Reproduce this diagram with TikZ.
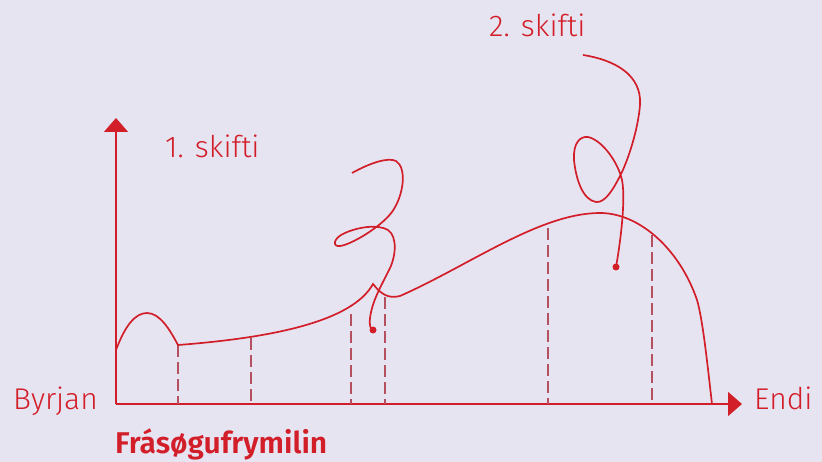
\documentclass[tikz,border=0pt]{standalone}
\usepackage{fontspec}
\setmainfont{Fira Sans Light}[BoldFont=Fira Sans SemiBold]
\usetikzlibrary{arrows.meta}
\definecolor{bgc}{RGB}{231,228,242}
\definecolor{redc}{RGB}{210,30,40}
\definecolor{dashc}{RGB}{180,80,96}
\begin{document}
\begin{tikzpicture}[x=1pt,y=-1pt,
  curve/.style={draw=redc,line width=1.7pt},
  axisline/.style={draw=redc,line width=1.4pt},
  guide/.style={draw=dashc,line width=1.2pt,dash pattern=on 12pt off 5pt},
  lbl/.style={text=redc,font=\fontsize{30}{32}\selectfont,inner sep=0pt,anchor=base west},
  dotc/.style={fill=redc,circle,inner sep=0pt,minimum size=7pt}]
\fill[bgc] (0,0) rectangle (822,462);
\useasboundingbox (0,0) rectangle (822,462);
% axes
\coordinate (O) at (116,404);
\coordinate (X) at (742,404);
\coordinate (Y) at (116,118);
\draw[axisline,-{Triangle[width=24pt,length=14pt]}] (O) -- (X);
\draw[axisline,-{Triangle[width=24pt,length=14pt]}] (O) -- (Y);
% labels
\node[lbl] (byrjan) at (13,409) {Byrjan};
\node[lbl] (endi) at (754,409) {Endi};
\node[lbl] (s1) at (165,158) {1. skifti};
\node[lbl] (s2) at (489,37) {2. skifti};
\node[lbl,font=\fontsize{30}{32}\selectfont\bfseries] (fras) at (115,453) {Frásøgufrymilin};
% guide lines
\foreach \x/\y in {178/345,251/338,351/314,385/297,548/228,652/235}{
  \draw[guide] (\x,\y) -- (\x,404);
}
% main curve
\draw[curve] (116,350) .. controls (125,326) and (135,313) .. (147,313)
  .. controls (160,313) and (170,330) .. (178,345)
  .. controls (270,338) and (352,322) .. (373,284)
  .. controls (381,294) and (388,299) .. (400,296)
  .. controls (470,265) and (540,213) .. (600,213)
  .. controls (640,213) and (680,250) .. (697,300)
  .. controls (703,320) and (708,370) .. (712,404);
% squiggle 1
\draw[curve] (352,173) .. controls (370,163) and (388,157) .. (396,161)
  .. controls (407,168) and (404,195) .. (392,212)
  .. controls (380,228) and (350,245) .. (340,246)
  .. controls (332,247) and (333,238) .. (345,233)
  .. controls (358,227) and (378,224) .. (388,230)
  .. controls (398,237) and (396,258) .. (388,272)
  .. controls (380,288) and (372,302) .. (370,318)
  .. controls (369,326) and (371,330) .. (373,330);
\node[dotc] (d1) at (373,330) {};
% squiggle 2
\draw[curve] (583,55) .. controls (615,60) and (642,75) .. (640,105)
  .. controls (638,130) and (628,160) .. (621,174)
  .. controls (613,190) and (605,203) .. (596,202)
  .. controls (583,200) and (576,180) .. (574,160)
  .. controls (573,143) and (580,136) .. (588,137)
  .. controls (602,140) and (618,162) .. (622,180)
  .. controls (626,200) and (620,245) .. (616,267);
\node[dotc] (d2) at (616,267) {};
\end{tikzpicture}
\end{document}
